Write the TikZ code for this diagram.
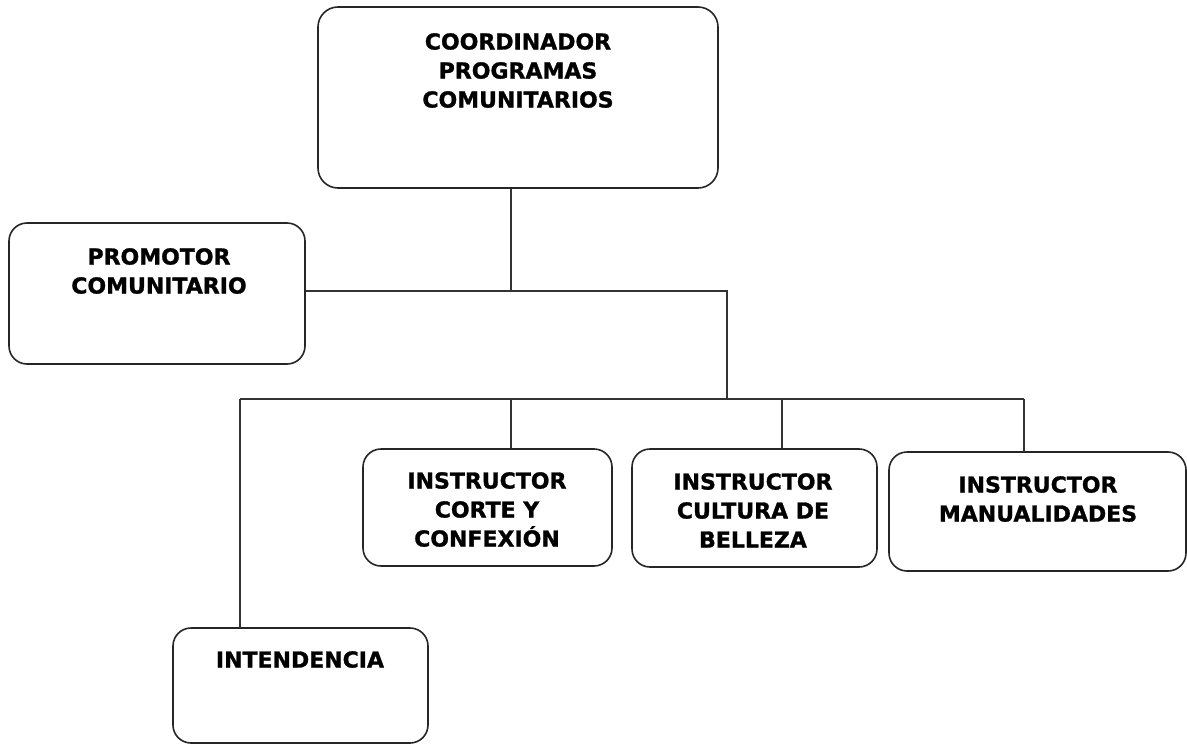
\documentclass[tikz,border=0pt]{standalone}
\usepackage{fontspec}
\setmainfont{DejaVu Sans}
\newfontfamily\heavyfont{DejaVu Sans Bold}[FakeBold=1.2]
\begin{document}
\begin{tikzpicture}[x=1pt,y=-1pt,
  box/.style={draw=black!85,line width=1.6pt,rounded corners=18pt,inner sep=0pt},
  lbl/.style={anchor=north,inner sep=0pt,align=center,font=\heavyfont\fontsize{22}{29}\selectfont},
  conn/.style={draw=black!80,line width=1.4pt}]
\useasboundingbox (0,0) rectangle (1187,744);
% boxes
\node[box,rounded corners=20pt,minimum width=400pt,minimum height=181pt] (coord) at (518,97.5) {};
\node[box,minimum width=296pt,minimum height=141pt] (prom) at (157,293.5) {};
\node[box,minimum width=255pt,minimum height=115pt] (inte) at (300.5,685.5) {};
\node[box,minimum width=249pt,minimum height=117pt] (corte) at (487.5,507.5) {};
\node[box,minimum width=245pt,minimum height=118pt] (cult) at (754.5,508) {};
\node[box,minimum width=297pt,minimum height=119pt] (manu) at (1037.5,511.5) {};
% labels
\node[lbl] (tcoord) at (518,33) {COORDINADOR\\PROGRAMAS\\COMUNITARIOS};
\node[lbl] (tprom) at (159,248) {PROMOTOR\\COMUNITARIO};
\node[lbl] (tinte) at (300,651) {INTENDENCIA};
\node[lbl] (tcorte) at (487,472) {INSTRUCTOR\\CORTE Y\\CONFEXIÓN};
\node[lbl] (tcult) at (753,473) {INSTRUCTOR\\CULTURA DE\\BELLEZA};
\node[lbl] (tmanu) at (1038,476) {INSTRUCTOR\\MANUALIDADES};
% junctions
\coordinate (j1) at (511,291);
\coordinate (j2) at (727,291);
\coordinate (j3) at (727,399);
\coordinate (jl) at (240,399);
\coordinate (jc) at (511,399);
\coordinate (jb) at (782,399);
\coordinate (jr) at (1024,399);
% connectors
\draw[conn] (coord.south -| j1) -- (j1);
\draw[conn] (prom.east |- j1) -- (j1) -- (j2) -- (j3);
\draw[conn] (jl) -- (jr);
\draw[conn] (jl) -- (inte.north -| jl);
\draw[conn] (jc) -- (corte.north -| jc);
\draw[conn] (jb) -- (cult.north -| jb);
\draw[conn] (jr) -- (manu.north -| jr);
\end{tikzpicture}
\end{document}
